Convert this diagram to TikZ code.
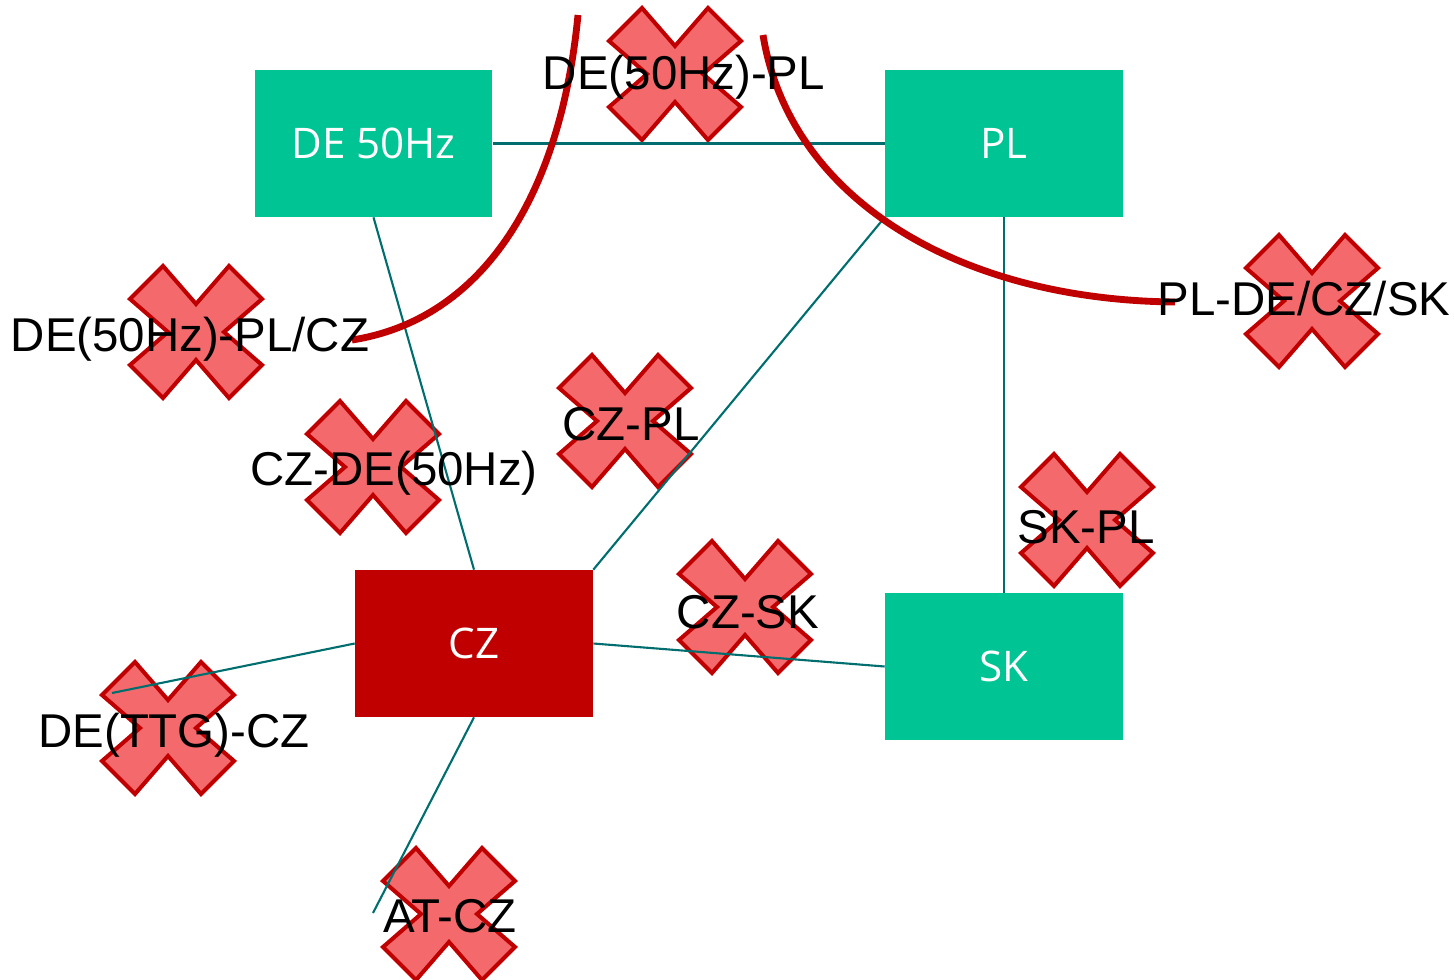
\documentclass[tikz,border=0pt]{standalone}
\usepackage{fontspec}
\setmainfont{Liberation Sans}
\newfontfamily\boxfont{Open Sans}
\definecolor{boxgreen}{RGB}{0,196,148}
\definecolor{boxred}{RGB}{192,0,0}
\definecolor{xfill}{RGB}{244,106,108}
\definecolor{linkteal}{RGB}{0,110,110}
\begin{document}
\begin{tikzpicture}[x=0.02cm,y=-0.02cm,
  country/.style={rectangle,minimum width=4.76cm,minimum height=2.94cm,inner sep=0pt,
    text=white,font=\boxfont\fontsize{24}{28}\selectfont},
  greenbox/.style={country,fill=boxgreen},
  redbox/.style={country,fill=boxred},
  link/.style={draw=linkteal,line width=1.2pt},
  cut/.style={draw=boxred,line width=3.9pt},
  lbl/.style={anchor=base,inner sep=0pt,font=\fontsize{27}{32}\selectfont},
  xstyle/.style={fill=xfill,draw=boxred,line width=2.3pt,line join=miter},
  pics/crossmark/.style={code={
    \path[xstyle] (-33,-66) -- (0,-28) -- (33,-66) -- (66,-33) -- (28,0) -- (66,33)
      -- (33,66) -- (0,28) -- (-33,66) -- (-66,33) -- (-28,0) -- (-66,-33) -- cycle;}}]
\useasboundingbox (0,0) rectangle (1454,980);
% cross marks
\pic at (675,74) {crossmark};
\pic at (196,332) {crossmark};
\pic at (373,467) {crossmark};
\pic at (625,421) {crossmark};
\pic at (1312,301) {crossmark};
\pic at (1087,520) {crossmark};
\pic at (745,607) {crossmark};
\pic at (168,728) {crossmark};
\pic at (449,914) {crossmark};
% boxes
\node[greenbox] (de) at (373.5,143.5) {DE 50Hz};
\node[greenbox] (pl) at (1004,143.5) {PL};
\node[redbox] (cz) at (474,643.5) {CZ};
\node[greenbox] (sk) at (1004,666.5) {SK};
\coordinate (ttg) at (112,693);
\coordinate (at) at (373,913);
% links
\draw[link] (de.east) -- (pl.west);
\draw[link] (de.south) -- (cz.north);
\draw[link] (pl.south west) -- (cz.north east);
\draw[link] (pl.south) -- (sk.north);
\draw[link] (cz.east) -- (sk.west);
\draw[link] (cz.west) -- (ttg);
\draw[link] (cz.south) -- (at);
% cut curves
\coordinate (c1a) at (578,15);
\coordinate (c1b) at (352,340);
\coordinate (c2a) at (763,35);
\coordinate (c2b) at (1175,302);
\draw[cut] (c1a) .. controls (560,200) and (480,320) .. (c1b);
\draw[cut] (c2a) .. controls (790,200) and (960,300) .. (c2b);
% labels
\node[lbl] (l1) at (684,90) {DE(50Hz)-PL};
\node[lbl] (l2) at (190,351) {DE(50Hz)-PL/CZ};
\node[lbl] (l3) at (394,485) {CZ-DE(50Hz)};
\node[lbl] (l4) at (631,440) {CZ-PL};
\node[lbl] (l5) at (1304,315) {PL-DE/CZ/SK};
\node[lbl] (l6) at (1086,543) {SK-PL};
\node[lbl] (l7) at (748,628) {CZ-SK};
\node[lbl] (l8) at (174,747) {DE(TTG)-CZ};
\node[lbl] (l9) at (450,932) {AT-CZ};
\end{tikzpicture}
\end{document}
